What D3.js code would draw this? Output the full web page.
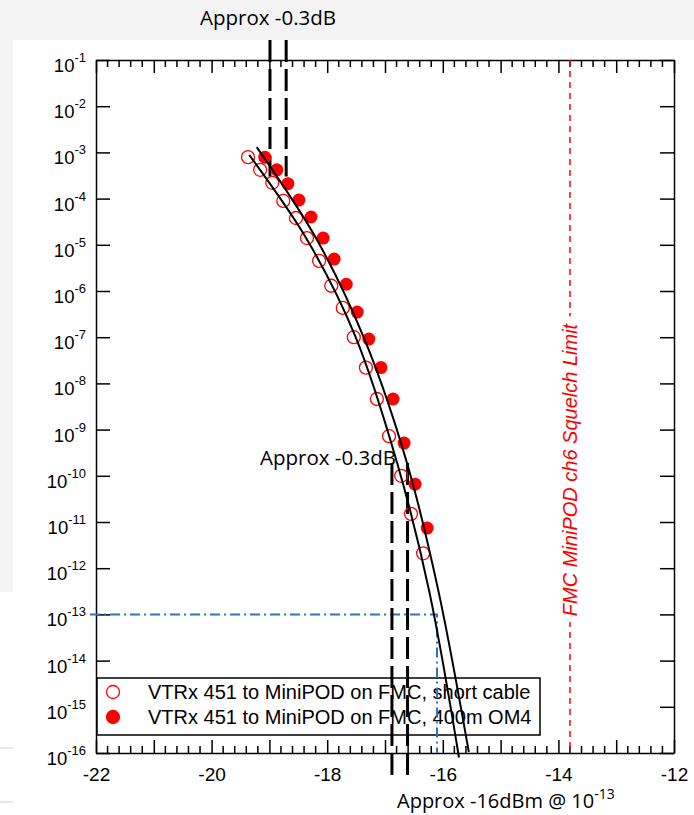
<!DOCTYPE html>
<html>
<head>
<meta charset="utf-8">
<script src="https://cdn.jsdelivr.net/npm/d3@7"></script>
<style>
  body { margin: 0; background: #f3f3f3; }
  svg { display: block; }
</style>
</head>
<body>
<svg id="chart" width="694" height="815"></svg>
<script>
// short cable, open circles (dBm, BER)
const shortX = [-19.37,-19.16,-18.95,-18.76,-18.54,-18.35,-18.14,-17.93,-17.73,-17.54,-17.33,-17.14,-16.93,-16.72,-16.55,-16.34];
const shortBer = [7.9e-4,4.2e-4,2.2e-4,8.9e-5,3.8e-5,1.4e-5,4.5e-6,1.3e-6,4.3e-7,1.0e-7,2.2e-8,4.6e-9,7.2e-10,1.0e-10,1.5e-11,2.1e-12];
// 400m OM4, filled circles
const longX = [-19.08,-18.87,-18.68,-18.49,-18.28,-18.07,-17.88,-17.67,-17.48,-17.28,-17.07,-16.86,-16.67,-16.48,-16.27];
const longBer = [7.9e-4,4.2e-4,2.1e-4,9.3e-5,4.0e-5,1.4e-5,4.9e-6,1.4e-6,3.5e-7,9.1e-8,2.2e-8,4.6e-9,5.1e-10,6.6e-11,7.4e-12];
// fitted curves
const fitShortX = [-19.35,-18.35,-17.52,-16.79,-16.24,-15.72];
const fitShortBer = [8.8e-4,1.3e-5,1.1e-7,1.9e-10,3.4e-13,8e-17];
const fitLongX = [-19.22,-18.18,-17.35,-16.62,-16.08,-15.55];
const fitLongBer = [1.3e-3,1.3e-5,8.7e-8,1.9e-10,3.4e-13,1.05e-16];

const xMajor = [-22,-21,-20,-19,-18,-17,-16,-15,-14,-13,-12];
const xLabels = [-22,-20,-18,-16,-14,-12];
const yDecades = [-1,-2,-3,-4,-5,-6,-7,-8,-9,-10,-11,-12,-13,-14,-15,-16];

const legendNames = ["VTRx 451 to MiniPOD on FMC, short cable", "VTRx 451 to MiniPOD on FMC, 400m OM4"];

// annotation markers
const topPairX = [-18.99, -18.71];
const topPairBer = [2.7e-1, 3.0e-4];
const midPairX = [-16.88, -16.61];
const midPairBer = [1.9e-10, 3.3e-17];
const sensX = -16.1, sensBer = 1e-13;
const squelchX = -13.8;

const svg = d3.select("#chart");
const dims = { left: 96, right: 674, top: 60, bottom: 753 };

const x = d3.scaleLinear().domain([-22, -12]).range([dims.left, dims.right]);
const y = d3.scaleLog().domain([1e-16, 1e-1]).range([dims.bottom, dims.top]);

// background like the slide screenshot
svg.append("rect").attr("x", 13).attr("y", 40).attr("width", 681).attr("height", 775).attr("fill", "#fff");
svg.append("rect").attr("x", 0).attr("y", 592).attr("width", 13).attr("height", 223).attr("fill", "#fff");
svg.append("line").attr("x1", 0).attr("x2", 13).attr("y1", 748).attr("y2", 748).attr("stroke", "#d0d0d0");
svg.append("line").attr("x1", 0).attr("x2", 13).attr("y1", 802).attr("y2", 802).attr("stroke", "#d0d0d0");

// axes
const axisFont = "Liberation Sans, Arial, sans-serif";
function styleAxis(g) {
  g.selectAll("path").attr("stroke", "#000").attr("stroke-width", 1.5);
  g.selectAll("line").attr("stroke", "#000").attr("stroke-width", 1.5);
}
const xMinor = d3.range(-22, -12.001, 0.2).map(v => +v.toFixed(1)).filter(v => Math.abs(v - Math.round(v)) > 0.01);

function minorTicks(g, y0, dir) {
  g.selectAll("line.minor").data(xMinor).enter().append("line")
    .attr("x1", d => x(d)).attr("x2", d => x(d))
    .attr("y1", y0).attr("y2", y0 + dir * 7)
    .attr("stroke", "#000").attr("stroke-width", 1.5);
}

const gBottom = svg.append("g").attr("transform", `translate(0,${dims.bottom})`)
  .call(d3.axisBottom(x).tickValues(xMajor).tickSize(-13).tickSizeOuter(0).tickPadding(15)
    .tickFormat(d => xLabels.includes(d) ? d : ""));
styleAxis(gBottom);
gBottom.selectAll("text").attr("font-family", axisFont).attr("font-size", 19).attr("fill", "#000");
minorTicks(svg.append("g"), dims.bottom, -1);

const gTop = svg.append("g").attr("transform", `translate(0,${dims.top})`)
  .call(d3.axisTop(x).tickValues(xMajor).tickSize(-13).tickSizeOuter(0).tickFormat(""));
styleAxis(gTop);
minorTicks(svg.append("g"), dims.top, 1);

const yTicks = yDecades.map(e => Math.pow(10, e));
const gLeft = svg.append("g").attr("transform", `translate(${dims.left},0)`)
  .call(d3.axisLeft(y).tickValues(yTicks).tickSize(-14).tickSizeOuter(0).tickFormat(""));
styleAxis(gLeft);
const gRight = svg.append("g").attr("transform", `translate(${dims.right},0)`)
  .call(d3.axisRight(y).tickValues(yTicks).tickSize(-14).tickSizeOuter(0).tickFormat(""));
styleAxis(gRight);

const yLab = svg.append("g").attr("font-family", axisFont).attr("fill", "#000");
yDecades.forEach(e => {
  const t = yLab.append("text").attr("x", 86).attr("y", y(Math.pow(10, e)) + 12).attr("text-anchor", "end");
  t.append("tspan").attr("font-size", 18.5).text("10");
  t.append("tspan").attr("font-size", 13).attr("dy", -10).text(e);
});

// legend (drawn under the lines)
const leg = svg.append("g");
leg.append("rect").attr("x", 97).attr("y", 678).attr("width", 443).attr("height", 57)
  .attr("fill", "#fff").attr("stroke", "#000").attr("stroke-width", 1.5);
legendNames.forEach((name, i) => {
  const cy = 692 + i * 25;
  leg.append("circle").attr("cx", 113).attr("cy", cy).attr("r", 6.5)
    .attr("fill", i === 0 ? "#fff" : "#ff0000").attr("stroke", "#ff0000").attr("stroke-width", 1.3);
  leg.append("text").attr("x", 148).attr("y", cy + 7).attr("font-family", axisFont)
    .attr("font-size", 20).attr("fill", "#000").text(name);
});

// squelch limit
svg.append("line").attr("x1", x(squelchX)).attr("x2", x(squelchX)).attr("y1", dims.top).attr("y2", dims.bottom)
  .attr("stroke", "#ff0000").attr("stroke-width", 1.5).attr("stroke-dasharray", "6,5");
const sq = svg.append("g").attr("transform", `translate(${x(squelchX) + 7},470) rotate(-90)`);
const sqBg = sq.append("rect").attr("fill", "#fff");
const sqText = sq.append("text")
  .attr("text-anchor", "middle").attr("font-family", axisFont).attr("font-style", "italic")
  .attr("font-size", 20).attr("fill", "#ff0000").text("FMC MiniPOD ch6 Squelch Limit");
const bb = sqText.node().getBBox();
sqBg.attr("x", bb.x - 6).attr("y", bb.y).attr("width", bb.width + 12).attr("height", bb.height);

// sensitivity dash-dot
svg.append("path")
  .attr("d", `M${dims.left - 6},${y(sensBer)}H${x(sensX)}V${dims.bottom}`)
  .attr("fill", "none").attr("stroke", "#2e75b6").attr("stroke-width", 2)
  .attr("stroke-dasharray", "10,4,2,4");

// -0.3 dB dashed pairs
function dashPair(xs, bers) {
  xs.forEach(v => {
    svg.append("line").attr("x1", x(v)).attr("x2", x(v)).attr("y1", y(bers[0])).attr("y2", y(bers[1]))
      .attr("stroke", "#000").attr("stroke-width", 3).attr("stroke-dasharray", "22,7");
  });
}
dashPair(topPairX, topPairBer);
dashPair(midPairX, midPairBer);

// points
svg.append("g").selectAll("circle").data(shortX).enter().append("circle")
  .attr("cx", d => x(d)).attr("cy", (d, i) => y(shortBer[i])).attr("r", 6.5)
  .attr("fill", "none").attr("stroke", "#ff0000").attr("stroke-width", 1.3);
svg.append("g").selectAll("circle").data(longX).enter().append("circle")
  .attr("cx", d => x(d)).attr("cy", (d, i) => y(longBer[i])).attr("r", 6.5)
  .attr("fill", "#ff0000");

// fits
const line = d3.line().x(d => x(d[0])).y(d => y(d[1])).curve(d3.curveCatmullRom);
[[fitShortX, fitShortBer], [fitLongX, fitLongBer]].forEach(([xs, bs]) => {
  svg.append("path").datum(xs.map((v, i) => [v, bs[i]])).attr("d", line)
    .attr("fill", "none").attr("stroke", "#000").attr("stroke-width", 2);
});

// annotations
const noteFont = "Open Sans, Noto Sans, sans-serif";
svg.append("text").attr("x", 200).attr("y", 25).attr("font-family", noteFont).attr("font-size", 20.5)
  .attr("fill", "#000").text("Approx -0.3dB");
svg.append("text").attr("x", 260).attr("y", 465).attr("font-family", noteFont).attr("font-size", 20.5)
  .attr("fill", "#000").text("Approx -0.3dB");
const bn = svg.append("text").attr("x", 397).attr("y", 808).attr("font-family", noteFont).attr("font-size", 20)
  .attr("fill", "#000");
bn.append("tspan").text("Approx -16dBm @ 10");
bn.append("tspan").attr("font-size", 14).attr("dy", -9).text("-13");
</script>
</body>
</html>
